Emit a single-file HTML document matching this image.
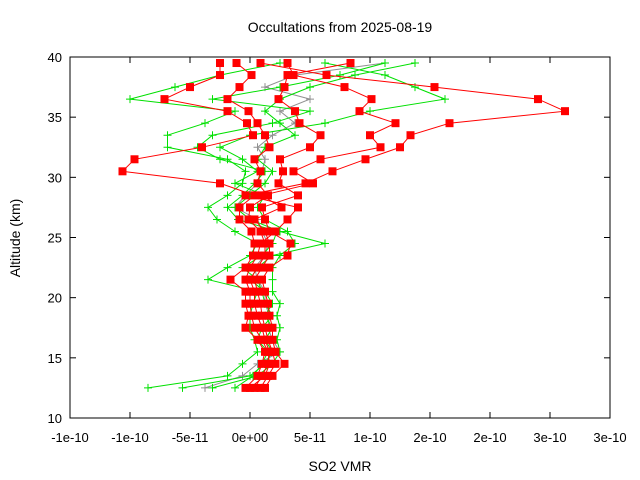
<!DOCTYPE html>
<html><head><meta charset="utf-8"><style>
body{margin:0;background:#fff;}
svg{display:block;font-family:"Liberation Sans",sans-serif;}
</style></head><body>
<svg id="chart" width="640" height="480" viewBox="0 0 640 480">
<text x="340" y="32" font-size="14" text-anchor="middle">Occultations from 2025-08-19</text>
<text x="340" y="471" font-size="14" text-anchor="middle">SO2 VMR</text>
<text x="20" y="238" font-size="14" text-anchor="middle" transform="rotate(-90 20 238)">Altitude (km)</text>
<g id="axes"></g>
<g id="series"></g>
<rect x="70" y="57" width="540" height="361" fill="none" stroke="#000" stroke-width="1"/>
</svg>
<script>
// altitudes (km) at which each profile is sampled
const altitudes = [12.5,13.5,14.5,15.5,16.5,17.5,18.5,19.5,20.5,21.5,22.5,23.5,24.5,25.5,26.5,27.5,28.5,29.5,30.5,31.5,32.5,33.5,34.5,35.5,36.5,37.5,38.5,39.5];
// SO2 VMR values in units of 1e-11
const red1 = [-0.3,0.5,0.8,1.0,0.5,-0.3,-0.1,-0.3,-0.3,-1.3,-0.3,0.2,0.3,0.1,-0.7,-0.7,0.3,-2.0,-8.5,-7.7,-3.2,0.2,-0.2,-1.5,-5.7,-4,-2,-2];
const red2 = [0.3,0.8,1.2,1.3,1.0,0.8,0.5,0.3,0.3,0,0.5,1.0,1.0,0.7,-0.1,0,1.2,0.5,0.7,0.3,1.3,1.0,0.5,-0.1,-1.5,-0.7,0.1,-0.9];
const red3 = [1.0,1.5,2.3,1.7,1.5,1.5,1.3,1.2,1.0,0.8,1.3,2.5,2.7,1.3,1.0,0.8,3.2,1.9,2.2,2.0,4.0,4.7,3.3,3.0,1.9,2.3,2.5,6.7];
const red4 = [0,1.0,1.3,1.2,0.8,0.3,0.1,0,0,-0.3,0,0.5,0.7,1.7,2.5,3.2,-0.3,3.7,5.5,7.7,10,10.7,13.3,21,19.2,12.3,5.1,0.7];
const red5 = [0.7,1.2,1.7,1.5,1.2,1.0,0.8,0.7,0.5,0.3,0.8,1.3,1.3,1.0,0.3,2.1,0.8,4.2,2.9,4.7,8.7,8.0,9.7,7.3,8.1,6.3,2.9,2.5];
const green1 = [-6.8,-1.5,-0.5,0.5,0.3,0,0,0.2,0.5,-2.8,-1.5,0,0.5,-1,-2.2,-2.8,-1.5,-0.5,-0.3,-1.5,-5.5,-5.5,-3,-1,-8,-5,-2,2];
const green2 = [-4.5,0,1,1.5,1,1.5,1,1.5,1,0,0.5,1.5,5,2,0,-1,0,1,1.5,0.5,1,3,2,1,2,4,7,11];
const green3 = [-2.5,0.5,1.5,2,1.8,2,1.8,2,1.5,1.5,1.5,2,3,2.5,1,0.5,1,-1,0.5,-0.5,-2,0,5,8,13,11,9,5];
const green4 = [-1,0.2,0.8,1.2,0.5,0.8,1.5,1,0.8,0.5,-0.5,0.8,1.5,1.8,-0.8,-1.5,-0.5,0.3,1.0,-2.0,-3.5,-2.5,1.5,4,-2.5,2,6,9];
const gray1 = [-3,-0.5,0.5,2,1.5,1.2,1.3,1,1,0.5,0.3,1,1.2,0.8,0.5,-1,-0.3,0.5,0.8,1,0.5,1.5,3,2,4,1,3,9];
const xTickValues = [-12,-8,-4,0,4,8,12,16,20,24];
const xTickLabels = ["-1e-10","-1e-10","-5e-11","0e+00","5e-11","1e-10","2e-10","2e-10","3e-10","3e-10"];
const yTickValues = [10,15,20,25,30,35,40];

const X0=70,X1=610,Y0=418,Y1=57;
const xMin=-12,xMax=24,yMin=10,yMax=40;
function xs(v){return X0+(v-xMin)/(xMax-xMin)*(X1-X0);}
function ys(v){return Y0-(v-yMin)/(yMax-yMin)*(Y0-Y1);}
const NS="http://www.w3.org/2000/svg";
const axes=document.getElementById('axes');
const ser=document.getElementById('series');
function mk(tag,attrs,parent){const e=document.createElementNS(NS,tag);for(const k in attrs)e.setAttribute(k,attrs[k]);parent.appendChild(e);return e;}

xTickValues.forEach((v,i)=>{
  const x=xs(v);
  const t=mk('line',{x1:x,x2:x,y1:Y0,y2:Y0-6,stroke:'#000'},axes);
  
  
  const t2=mk('line',{x1:x,x2:x,y1:Y1,y2:Y1+6,stroke:'#000'},axes);
  
  
  const l=mk('text',{x:x,y:Y0+24,'font-size':13,'text-anchor':'middle'},axes);
  l.textContent=xTickLabels[i];
  
  
});
yTickValues.forEach(v=>{
  const y=ys(v);
  const t=mk('line',{x1:X0,x2:X0+6,y1:y,y2:y,stroke:'#000'},axes);
  
  
  const t2=mk('line',{x1:X1,x2:X1-6,y1:y,y2:y,stroke:'#000'},axes);
  
  
  const l=mk('text',{x:X0-8,y:y+5,'font-size':13,'text-anchor':'end'},axes);
  l.textContent=String(v);
  
  
});

function drawSeries(vals,color,marker,name){
  const g=mk('g',{},ser);
  
  
  const pts=vals.map((v,i)=>xs(v).toFixed(1)+','+ys(altitudes[i]).toFixed(1)).join(' ');
  const pl=mk('polyline',{points:pts,fill:'none',stroke:color,'stroke-width':1},g);
  
  
  vals.forEach((v,i)=>{
    const x=xs(v),y=ys(altitudes[i]);
    if(marker==='square'){
      const r=mk('rect',{x:x-4,y:y-4,width:8,height:8,fill:color},g);
      
      
    }else{
      const p=mk('path',{d:`M${x-4},${y}H${x+4}M${x},${y-4}V${y+4}`,stroke:color,'stroke-width':1},g);
      
      
    }
  });
}
drawSeries(gray1,'#909090','plus','profile-gray-1');
drawSeries(green1,'#00e000','plus','profile-green-1');
drawSeries(green2,'#00e000','plus','profile-green-2');
drawSeries(green3,'#00e000','plus','profile-green-3');
drawSeries(green4,'#00e000','plus','profile-green-4');
drawSeries(red1,'#ff0000','square','profile-red-1');
drawSeries(red2,'#ff0000','square','profile-red-2');
drawSeries(red3,'#ff0000','square','profile-red-3');
drawSeries(red4,'#ff0000','square','profile-red-4');
drawSeries(red5,'#ff0000','square','profile-red-5');
</script>
</body></html>
